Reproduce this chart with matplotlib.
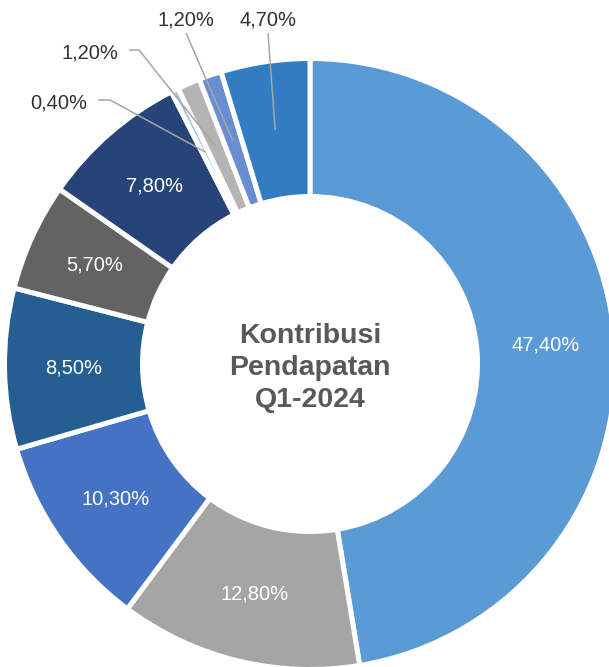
import numpy as np
import matplotlib.pyplot as plt

plt.rcParams['font.family'] = ['Liberation Sans', 'DejaVu Sans']

# data: shares in %, clockwise from 12 o'clock
shares = [47.40, 12.80, 10.30, 8.50, 5.70, 7.80, 0.40, 1.20, 1.20, 4.70]
colors = ['#5B9BD5', '#A5A5A5', '#4472C4', '#255E91', '#636363',
          '#264478', '#9DC3E6', '#B4B4B4', '#698ED0', '#327DC2']
center_title = "Kontribusi\nPendapatan\nQ1-2024"

# which slices get an outside label with a leader line
outside = {6, 7, 8, 9}

# layout, in pixels from the top-left of the 609x667 canvas
W, H = 609, 667
cx, cy = 310, 364
r_out, r_in = 303, 170
lw = 3.6
# outside label anchors: (x, y, ha, va, stub)  stub = horizontal run before the bend
label_pos = {
    6: (87, 103, 'right', 'center', 12),
    7: (118, 53, 'right', 'center', 10),
    8: (186, 20, 'center', 'center', 0),
    9: (268, 20, 'center', 'center', 0),
}

fig = plt.figure(figsize=(W / 100, H / 100), dpi=100)
ax = fig.add_axes([0, 0, 1, 1])

center = (cx, H - cy)
wedges, _ = ax.pie(
    shares, colors=colors, startangle=90, counterclock=False,
    radius=r_out + lw * 100 / 72 / 2, center=center,
    wedgeprops=dict(width=(r_out - r_in) + lw * 100 / 72,
                    edgecolor='white', linewidth=lw),
)

ax.set_xlim(0, W)
ax.set_ylim(0, H)
ax.set_aspect('equal')
ax.axis('off')

fmt = lambda v: f"{v:.2f}%".replace('.', ',')
r_mid = (r_out + r_in) / 2
for i, w in enumerate(wedges):
    ang = np.deg2rad((w.theta1 + w.theta2) / 2)
    px = center[0] + r_mid * np.cos(ang)
    py = center[1] + r_mid * np.sin(ang)
    if i not in outside:
        ax.text(px, py, fmt(shares[i]), color='white', fontsize=14.5,
                ha='center', va='center')
        continue
    tx, ty, ha, va, stub = label_pos[i]
    ty = H - ty
    ax.text(tx, ty, fmt(shares[i]), color='#333333', fontsize=14.5,
            ha=ha, va=va)
    if stub:
        # horizontal stub, then straight to the slice
        x0 = tx + 11
        xs = [x0, x0 + stub, px]
        ys = [ty + 3, ty + 3, py]
    else:
        xs = [tx, px]
        ys = [ty - 13, py]
    ax.plot(xs, ys, color='#A6A6A6', lw=1.1, solid_capstyle='butt')

ax.text(center[0], H - 368, center_title, color='#595959', fontsize=20.5,
        fontweight='bold', ha='center', va='center', linespacing=1.3)

fig.savefig('out.png', dpi=100)
